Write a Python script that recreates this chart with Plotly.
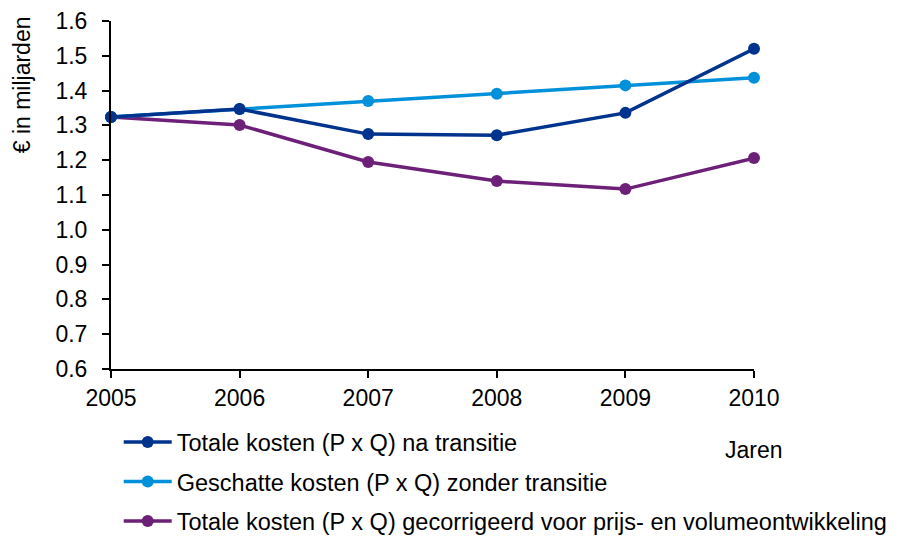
import plotly.graph_objects as go

years = [2005, 2006, 2007, 2008, 2009, 2010]
na_transitie = [1.324, 1.347, 1.275, 1.272, 1.336, 1.520]
zonder_transitie = [1.324, 1.347, 1.370, 1.391, 1.415, 1.437]
gecorrigeerd = [1.324, 1.301, 1.195, 1.140, 1.117, 1.206]

names = [
    "Totale kosten (P x Q) na transitie",
    "Geschatte kosten (P x Q) zonder transitie",
    "Totale kosten (P x Q) gecorrigeerd voor prijs- en volumeontwikkeling",
]
colors = ["#00338D", "#0091DA", "#6D2077"]
series = [na_transitie, zonder_transitie, gecorrigeerd]

FONT = "Liberation Sans, Arial, sans-serif"
FS = 23

fig = go.Figure()
traces = []
for i in range(3):
    traces.append(go.Scatter(
        x=years, y=series[i], name=names[i], mode="lines+markers",
        line=dict(color=colors[i], width=3.5),
        marker=dict(color=colors[i], size=12),
        cliponaxis=False, legendgroup=str(i), legendrank=i + 1,
    ))
for i in [2, 1, 0]:
    fig.add_trace(traces[i])

# page body has an 8px margin, so the figure is 8px smaller than the window
fig.update_layout(
    width=899, height=528,
    margin=dict(l=103, r=153, t=13, b=167, autoexpand=False),
    paper_bgcolor="white", plot_bgcolor="white",
    font=dict(family=FONT, size=FS, color="black"),
    showlegend=True,
    legend=dict(
        x=0.012, y=-0.147, xanchor="left", yanchor="top",
        traceorder="grouped", tracegroupgap=6,
        font=dict(family=FONT, size=23.5, color="black"),
        itemwidth=48,
    ),
    annotations=[
        dict(text="Jaren", x=1.0, y=-0.189, xref="paper", yref="paper",
             xanchor="center", yanchor="top", showarrow=False,
             font=dict(family=FONT, size=FS, color="black")),
        dict(text="€ in miljarden", x=-0.138, y=0.816, xref="paper", yref="paper",
             xanchor="center", yanchor="middle", textangle=-90, showarrow=False,
             font=dict(family=FONT, size=FS, color="black")),
    ],
)
fig.update_xaxes(
    range=[2005, 2010], tickmode="array", tickvals=years,
    ticktext=[str(y) for y in years],
    showline=True, linecolor="black", linewidth=2,
    ticks="outside", ticklen=7, tickcolor="black", tickwidth=2,
    showgrid=False, zeroline=False, ticklabelstandoff=0,
)
fig.update_yaxes(
    range=[0.6, 1.6], dtick=0.1, tickformat=".1f",
    showline=True, linecolor="black", linewidth=2,
    ticks="outside", ticklen=7, tickcolor="black", tickwidth=2,
    showgrid=False, zeroline=False, ticklabelstandoff=10,
)

fig.write_html("out.html")
